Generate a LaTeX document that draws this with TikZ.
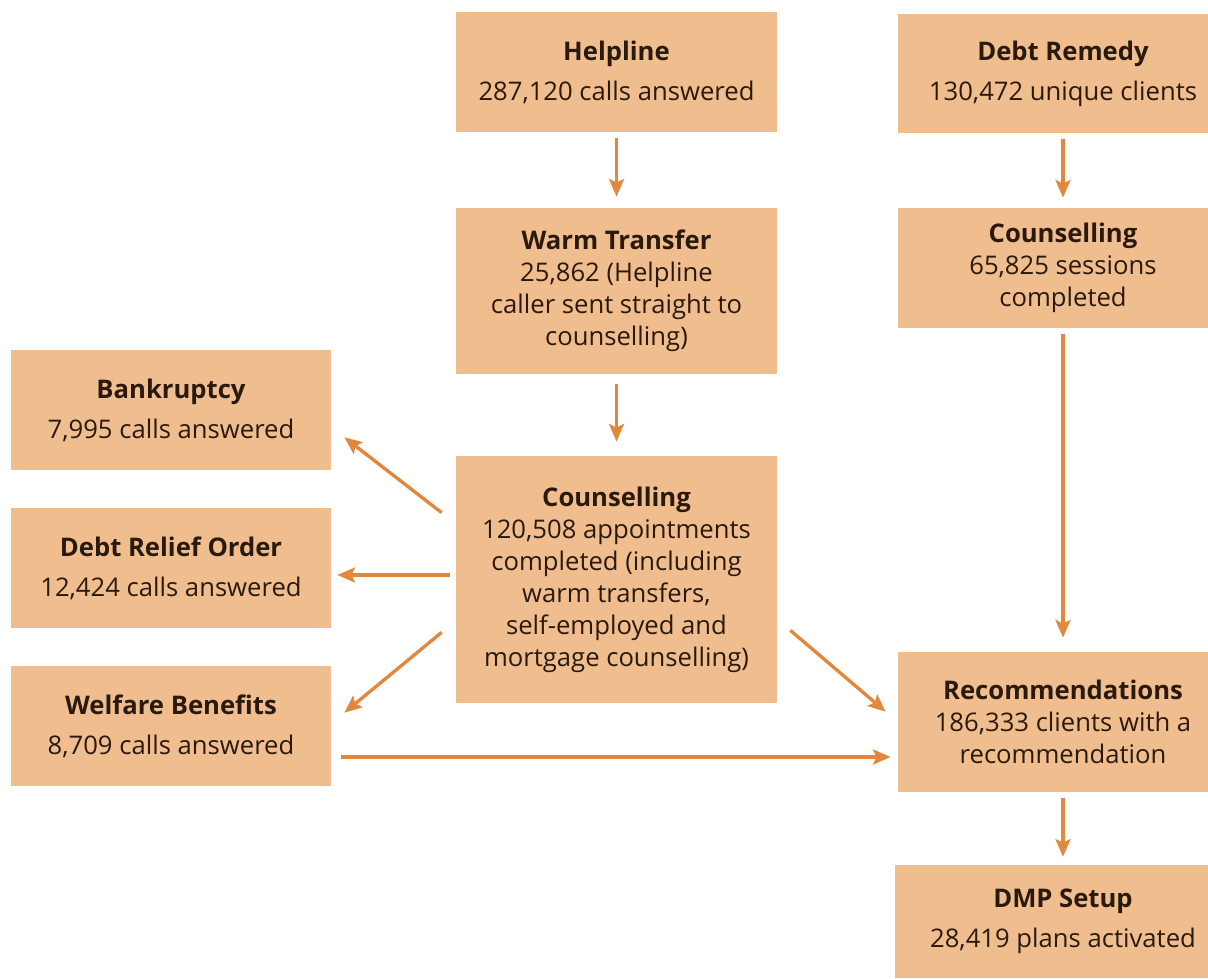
\documentclass[tikz,border=0pt]{standalone}
\usepackage{fontspec}
\setmainfont{Open Sans}
\usepackage{tikz}
\usetikzlibrary{arrows.meta, calc, positioning}
\definecolor{kasten}{HTML}{F0BD8F}
\definecolor{pfeil}{HTML}{E2873B}
\definecolor{schrift}{HTML}{2A1A0E}

\begin{document}
\begin{tikzpicture}[x=0.02cm, y=-0.02cm,
    box/.style={fill=kasten, text=schrift, align=center, inner sep=0pt,
      font=\fontsize{14.6}{18.2}\selectfont},
    dims/.style 2 args={minimum width=#1*0.02cm, minimum height=#2*0.02cm},
    flow/.style={-{Stealth[length=10pt, width=8.5pt, inset=2pt]}, draw=pfeil, line width=1.9pt}]
  \useasboundingbox (0,0) rectangle (1208,978);

  % Kaesten Mitte
  \node[box, dims={321}{120}] (help) at (616.5,72)
    {\textbf{Helpline}\\[4.5pt] 287,120 calls answered};
  \node[box, dims={321}{166}] (warm) at (616.5,291)
    {\textbf{Warm Transfer}\\ 25,862 (Helpline\\ caller sent straight to\\ counselling)};
  \node[box, dims={321}{247}] (cc) at (616.5,579.5)
    {\textbf{Counselling}\\ 120,508 appointments\\ completed (including\\ warm transfers,\\ self-employed and\\ mortgage counselling)};

  % Kaesten rechts
  \node[box, dims={330}{119}] (remedy) at (1063,73.5)
    {\textbf{Debt Remedy}\\[4.5pt] 130,472 unique clients};
  \node[box, dims={330}{120}] (cr) at (1063,268)
    {\textbf{Counselling}\\ 65,825 sessions\\ completed};
  \node[box, dims={330}{140}] (rec) at (1063,722)
    {\textbf{Recommendations}\\ 186,333 clients with a\\ recommendation};
  \node[box, dims={336}{113}] (dmp) at (1063,921.5)
    {\textbf{DMP Setup}\\[4.5pt] 28,419 plans activated};

  % Kaesten links
  \node[box, dims={320}{120}] (bank) at (171,410)
    {\textbf{Bankruptcy}\\[4.5pt] 7,995 calls answered};
  \node[box, dims={320}{120}] (dro) at (171,568)
    {\textbf{Debt Relief Order}\\[4.5pt] 12,424 calls answered};
  \node[box, dims={320}{120}] (wb) at (171,726)
    {\textbf{Welfare Benefits}\\[4.5pt] 8,709 calls answered};

  % Pfeile
  \draw[flow, shorten <=3.4pt, shorten >=6.3pt] (help) -- (warm);
  \draw[flow, shorten <=5.7pt, shorten >=8pt] (warm) -- (cc);
  \draw[flow, shorten <=3.4pt, shorten >=5.7pt] (remedy) -- (cr);
  \draw[flow, shorten <=3.4pt, shorten >=8pt] (cr) -- (rec);
  \draw[flow, shorten <=3.4pt, shorten >=4.5pt] (rec) -- (dmp);

  \draw[flow] ($(cc.north west)+(-14,57)$) -- ($(bank.south east)+(13,-33)$);
  \draw[flow] ($(cc.west)+(-6,-4.5)$) -- ($(dro.east)+(6,7)$);
  \draw[flow] ($(cc.south west)+(-14,-71)$) -- ($(wb.north east)+(13,47)$);
  \draw[flow] ($(cc.south east)+(13,-73)$) -- ($(rec.north west)+(-12,60)$);
  \draw[flow] ($(wb.east)+(10,31)$) -- ($(rec.west)+(-7,35)$);
\end{tikzpicture}
\end{document}
